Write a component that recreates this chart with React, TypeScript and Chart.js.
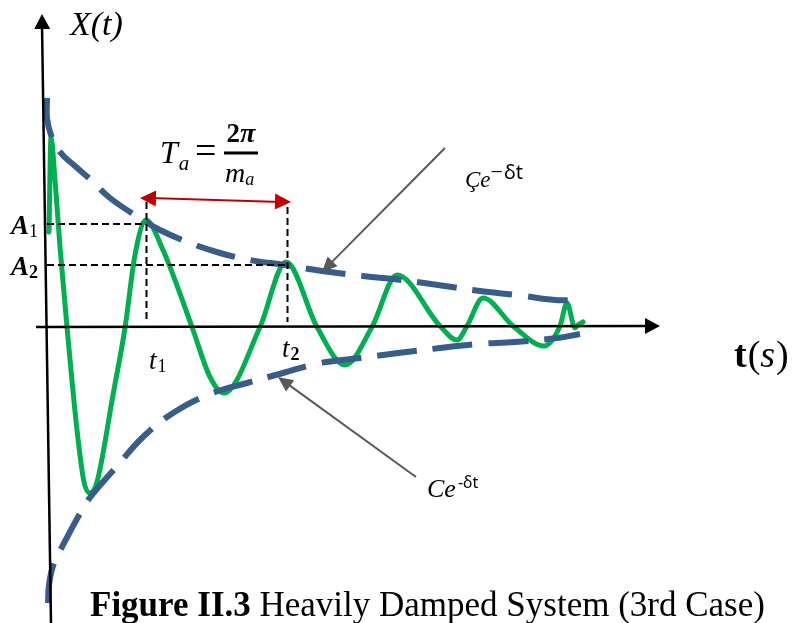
import React, { useEffect, useRef } from "react";
import { Chart, registerables } from "chart.js";

Chart.register(...registerables);

// Response curve X(t) (t in s, X in arbitrary units)
const responseT = [0.02, 0.04, 0.08, 0.13, 0.2, 0.3, 0.37, 0.43, 0.5, 0.66, 0.78, 0.88, 0.99, 1.16, 1.45, 1.63, 1.77, 2.13, 2.39, 2.7, 2.98, 3.25, 3.5, 3.93, 4.1, 4.2, 4.36, 4.66, 4.97, 5.13, 5.2, 5.28, 5.31, 5.36];
const responseX = [0.95, 1.89, 1.47, 0.8, 0.0, -1.03, -1.55, -1.66, -1.55, -0.68, -0.01, 0.72, 1.07, 0.77, 0.0, -0.5, -0.66, 0.0, 0.65, 0.0, -0.38, 0.0, 0.52, 0.01, -0.13, 0.01, 0.29, 0.01, -0.19, 0.01, 0.24, -0.01, 0.02, 0.05];

// Upper envelope  Çe^(−δt)
const upperT = [0.0, 0.0, 0.04, 0.13, 0.28, 0.44, 0.63, 0.91, 1.13, 1.43, 1.73, 2.03, 2.38, 2.75, 3.16, 3.46, 3.91, 4.33, 4.7, 5.08, 5.28];
const upperX = [2.29, 2.09, 1.92, 1.75, 1.61, 1.47, 1.29, 1.1, 0.97, 0.84, 0.74, 0.67, 0.62, 0.56, 0.51, 0.48, 0.42, 0.36, 0.32, 0.27, 0.27];

// Lower envelope  Ce^(-δt)
const lowerT = [0.01, 0.02, 0.06, 0.15, 0.35, 0.45, 0.71, 0.96, 1.26, 1.63, 2.0, 2.36, 2.73, 3.13, 3.51, 3.93, 4.31, 4.68, 5.1, 5.33];
const lowerX = [-2.76, -2.58, -2.39, -2.2, -1.83, -1.68, -1.38, -1.1, -0.86, -0.67, -0.56, -0.46, -0.36, -0.31, -0.26, -0.21, -0.17, -0.15, -0.11, -0.07];

// Marked peaks
const peakNames = ["1", "2"];
const peakTimes = [0.99, 2.4];
const peakAmps = [1.03, 0.62];

// Axis ranges
const tRange = [-0.47, 7.47];
const xRange = [-2.96, 3.27];

const GREEN = "#00B050";
const BLUE = "#385D8A";
const RED = "#C00000";
const GRAY = "#595959";
const SERIF = "'Liberation Serif', 'Times New Roman', serif";
const SANS = "'Noto Sans', 'Liberation Sans', sans-serif";

type Run = { text: string; font: string; dy?: number; dx?: number };

function drawRuns(ctx: CanvasRenderingContext2D, x0: number, y0: number, parts: Run[]) {
  let x = x0;
  for (const p of parts) {
    ctx.font = p.font;
    x += p.dx || 0;
    ctx.fillText(p.text, x, y0 + (p.dy || 0));
    x += ctx.measureText(p.text).width;
  }
  return x;
}

function arrowHead(ctx: CanvasRenderingContext2D, x0: number, y0: number, x1: number, y1: number, len: number, half: number) {
  const a = Math.atan2(y1 - y0, x1 - x0);
  const bx = x1 - Math.cos(a) * len;
  const by = y1 - Math.sin(a) * len;
  ctx.beginPath();
  ctx.moveTo(x1, y1);
  ctx.lineTo(bx + Math.sin(a) * half, by - Math.cos(a) * half);
  ctx.lineTo(bx - Math.sin(a) * half, by + Math.cos(a) * half);
  ctx.closePath();
  ctx.fill();
}

const overlayPlugin = {
  id: "overlay",
  afterDatasetsDraw(chart: any) {
    const { ctx } = chart;
    const sx = chart.scales.x;
    const sy = chart.scales.y;
    const px = (t: number) => sx.getPixelForValue(t);
    const py = (v: number) => sy.getPixelForValue(v);
    ctx.save();

    // Axes
    ctx.strokeStyle = "#000";
    ctx.fillStyle = "#000";
    ctx.lineWidth = 2.5;
    ctx.setLineDash([]);
    const yA0 = [0.04, -2.96], yA1 = [-0.05, 3.13];
    ctx.beginPath();
    ctx.moveTo(px(yA0[0]), py(yA0[1]));
    ctx.lineTo(px(yA1[0]), py(yA1[1]) + 10);
    ctx.stroke();
    arrowHead(ctx, px(yA0[0]), py(yA0[1]), px(yA1[0]), py(yA1[1]), 15, 8);
    const xA0 = [-0.11, 0.0], xA1 = [6.13, 0.01];
    ctx.beginPath();
    ctx.moveTo(px(xA0[0]), py(xA0[1]));
    ctx.lineTo(px(xA1[0]) - 10, py(xA1[1]));
    ctx.stroke();
    arrowHead(ctx, px(xA0[0]), py(xA0[1]), px(xA1[0]), py(xA1[1]), 15, 8);

    // Red period arrow
    const arrowL = [peakTimes[0] - 0.06, 1.29];
    const arrowR = [peakTimes[1] + 0.04, 1.25];
    ctx.strokeStyle = RED;
    ctx.fillStyle = RED;
    ctx.lineWidth = 2;
    ctx.beginPath();
    ctx.moveTo(px(arrowL[0]) + 10, py(arrowL[1]));
    ctx.lineTo(px(arrowR[0]) - 10, py(arrowR[1]));
    ctx.stroke();
    arrowHead(ctx, px(arrowR[0]), py(arrowR[1]), px(arrowL[0]), py(arrowL[1]), 16, 8);
    arrowHead(ctx, px(arrowL[0]), py(arrowL[1]), px(arrowR[0]), py(arrowR[1]), 16, 8);

    // Dashed guides for A1, A2 and t1, t2
    ctx.strokeStyle = "#000";
    ctx.lineWidth = 2;
    ctx.setLineDash([7, 4]);
    const vTops = [1.25, 1.2];
    peakTimes.forEach((t, i) => {
      ctx.beginPath();
      ctx.moveTo(px(0), py(peakAmps[i]));
      ctx.lineTo(px(t), py(peakAmps[i]));
      ctx.stroke();
      ctx.beginPath();
      ctx.moveTo(px(t + 0.005), py(vTops[i]));
      ctx.lineTo(px(t + 0.005), py(0.05));
      ctx.stroke();
    });
    ctx.setLineDash([]);

    // Gray pointer arrows
    ctx.strokeStyle = GRAY;
    ctx.fillStyle = GRAY;
    ctx.lineWidth = 2;
    const pointers = [
      [3.98, 1.79, 2.75, 0.55],
      [3.69, -1.5, 2.31, -0.5],
    ];
    pointers.forEach(([t0, v0, t1, v1]) => {
      const a = Math.atan2(py(v1) - py(v0), px(t1) - px(t0));
      ctx.beginPath();
      ctx.moveTo(px(t0), py(v0));
      ctx.lineTo(px(t1) - Math.cos(a) * 10, py(v1) - Math.sin(a) * 10);
      ctx.stroke();
      arrowHead(ctx, px(t0), py(v0), px(t1), py(v1), 15, 7);
    });

    // Text
    ctx.fillStyle = "#000";
    ctx.textBaseline = "alphabetic";
    ctx.textAlign = "left";

    drawRuns(ctx, px(0.23), py(2.92), [{ text: "X(t)", font: `italic 34px ${SERIF}` }]);

    peakNames.forEach((n, i) => {
      const bold = i === 1;
      drawRuns(ctx, px(-0.36), py(peakAmps[i]) + 10, [
        { text: "A", font: `italic bold 27px ${SERIF}` },
        { text: n, font: `${bold ? "bold " : ""}18px ${SERIF}`, dy: 3 },
      ]);
    });

    const tLabelX = [-0.42, -0.3];
    peakNames.forEach((n, i) => {
      drawRuns(ctx, px(peakTimes[i] + (i === 0 ? 0.03 : -0.05)), py(tLabelX[i]), [
        { text: "t", font: `italic 27px ${SERIF}` },
        { text: n, font: `${i === 1 ? "bold " : ""}18px ${SERIF}`, dy: 3, dx: 1 },
      ]);
    });

    // T_a = 2π / m_a
    const fx = px(1.13);
    const fy = py(1.64);
    drawRuns(ctx, fx, fy, [
      { text: "T", font: `italic 32px ${SERIF}` },
      { text: "a", font: `italic 21px ${SERIF}`, dy: 7, dx: 1 },
    ]);
    ctx.font = `38px ${SERIF}`;
    ctx.fillText("=", px(1.48), fy);
    const barL = px(1.77);
    const barR = px(2.11);
    const barY = py(1.74);
    ctx.fillRect(barL, barY - 1.5, barR - barL, 3);
    const cx = (barL + barR) / 2;
    ctx.font = `bold 27px ${SERIF}`;
    const w2 = ctx.measureText("2").width;
    ctx.font = `bold italic 28px ${SERIF}`;
    const wp = ctx.measureText("π").width;
    drawRuns(ctx, cx - (w2 + wp) / 2, barY - 11, [
      { text: "2", font: `bold 27px ${SERIF}` },
      { text: "π", font: `bold italic 28px ${SERIF}` },
    ]);
    drawRuns(ctx, barL + 1, barY + 29, [
      { text: "m", font: `italic 28px ${SERIF}` },
      { text: "a", font: `italic 18px ${SERIF}`, dy: 3 },
    ]);

    // Envelope labels
    drawRuns(ctx, px(4.18), py(1.4), [
      { text: "Çe", font: `italic 23px ${SERIF}` },
      { text: "−", font: `22px ${SERIF}`, dy: -8 },
      { text: "δt", font: `20px ${SANS}`, dy: -8, dx: 1 },
    ]);
    drawRuns(ctx, px(3.8), py(-1.7), [
      { text: "Ce", font: `italic 26px ${SERIF}` },
      { text: "-δt", font: `16px ${SANS}`, dy: -9, dx: 2 },
    ]);

    // Time axis label
    drawRuns(ctx, px(6.87), py(-0.4), [
      { text: "t", font: `bold 38px ${SERIF}` },
      { text: "(", font: `38px ${SERIF}`, dx: 1 },
      { text: "s", font: `italic 38px ${SERIF}` },
      { text: ")", font: `38px ${SERIF}`, dx: 1 },
    ]);

    // Caption
    drawRuns(ctx, px(0.43), py(-2.89), [
      { text: "Figure II.3", font: `bold 35px ${SERIF}` },
      { text: " Heavily Damped System (3rd Case)", font: `35px ${SERIF}` },
    ]);

    ctx.restore();
  },
};

export default function App() {
  const ref = useRef<HTMLCanvasElement>(null);
  useEffect(() => {
    if (!ref.current) return;
    const toPts = (ts: number[], vs: number[]) => ts.map((t, i) => ({ x: t, y: vs[i] }));
    const chart = new Chart(ref.current, {
      type: "line",
      data: {
        datasets: [
          {
            label: "upper",
            data: toPts(upperT, upperX),
            borderColor: BLUE,
            borderWidth: 6,
            borderDash: [40, 16],
            borderCapStyle: "butt",
            tension: 0.4,
            pointRadius: 0,
            fill: false,
          },
          {
            label: "lower",
            data: toPts(lowerT, lowerX),
            borderColor: BLUE,
            borderWidth: 6,
            borderDash: [40, 16],
            borderCapStyle: "butt",
            tension: 0.4,
            pointRadius: 0,
            fill: false,
          },
          {
            label: "X(t)",
            data: toPts(responseT, responseX),
            borderColor: GREEN,
            borderWidth: 5,
            borderCapStyle: "round",
            borderJoinStyle: "round",
            cubicInterpolationMode: "monotone",
            pointRadius: 0,
            fill: false,
          },
        ],
      },
      options: {
        responsive: false,
        animation: false,
        devicePixelRatio: 1,
        layout: { padding: 0 },
        plugins: { legend: { display: false }, tooltip: { enabled: false }, title: { display: false } },
        scales: {
          x: { type: "linear", min: tRange[0], max: tRange[1], display: false },
          y: { type: "linear", min: xRange[0], max: xRange[1], display: false },
        },
      } as any,
      plugins: [overlayPlugin],
    });
    return () => chart.destroy();
  }, []);
  return (
    <div style={{ position: "fixed", left: 0, top: 0, width: 794, height: 623, background: "#fff" }}>
      <canvas ref={ref} width={794} height={623} style={{ display: "block" }} />
    </div>
  );
}
